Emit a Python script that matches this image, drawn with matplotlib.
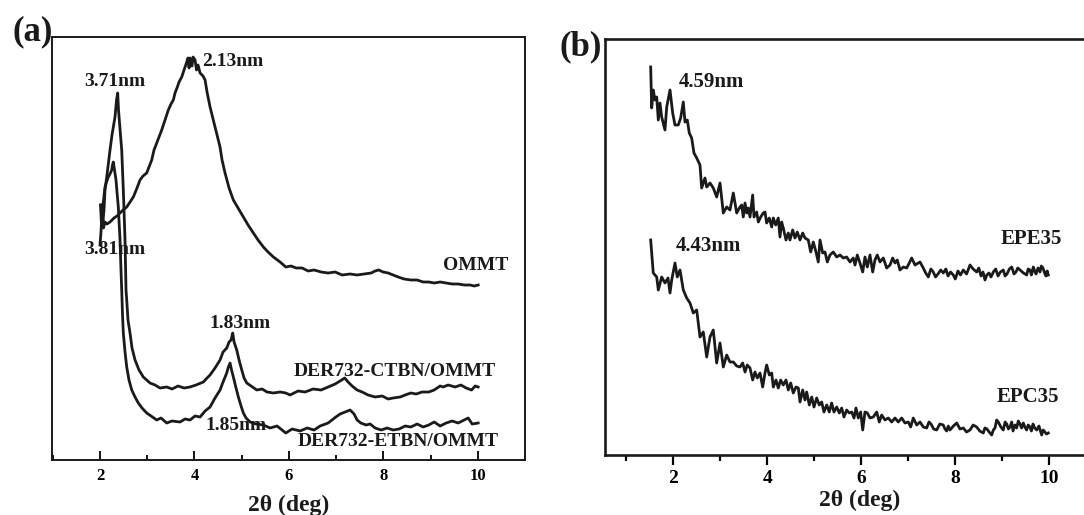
import matplotlib
matplotlib.use("Agg")
import matplotlib.pyplot as plt
from matplotlib.ticker import MultipleLocator

plt.rcParams['font.family'] = ['Liberation Serif', 'DejaVu Serif']
plt.rcParams['font.weight'] = 'bold'

# ---------------- panel (a) data ----------------
ctbn_x = [2.021, 2.053, 2.085, 2.106, 2.148, 2.212, 2.254, 2.318, 2.350, 2.375, 2.392, 2.409,
          2.434, 2.460, 2.494, 2.530, 2.551, 2.566, 2.593, 2.636, 2.678, 2.742, 2.826, 2.917,
          3.059, 3.165, 3.271, 3.413, 3.525, 3.653, 3.780, 3.907, 4.034, 4.189, 4.267, 4.331,
          4.436, 4.542, 4.606, 4.684, 4.733, 4.775, 4.811, 4.839, 4.896, 4.945, 5.002, 5.051,
          5.108, 5.199, 5.320, 5.432, 5.538, 5.672, 5.814, 5.934, 6.025, 6.195, 6.343, 6.513,
          6.682, 6.831, 6.979, 7.085, 7.182, 7.254, 7.339, 7.445, 7.551, 7.678, 7.826, 7.975,
          8.102, 8.208, 8.356, 8.462, 8.583, 8.695, 8.822, 8.962, 9.076, 9.203, 9.267, 9.373,
          9.521, 9.642, 9.754, 9.869, 9.945, 10.008]
ctbn_y = [255, 235, 250, 270, 285, 310, 325, 343, 360, 367, 350, 340,
          325, 310, 270, 220, 170, 160, 140, 127, 112, 100, 90, 83,
          77, 75, 72, 73, 71, 74, 72, 73, 75, 78, 82, 85,
          92, 100, 108, 112, 118, 120, 127, 118, 110, 100, 90, 82,
          77, 74, 70, 71, 68, 67, 68, 67, 65, 69, 68, 71,
          70, 73, 76, 79, 82, 78, 74, 70, 68, 65, 63, 64,
          61, 62, 63, 65, 67, 66, 68, 68, 70, 74, 73, 75,
          73, 75, 72, 70, 74, 73]

etbn_x = [2.000, 2.021, 2.036, 2.064, 2.106, 2.138, 2.176, 2.212, 2.248, 2.265, 2.282, 2.307,
          2.339, 2.360, 2.388, 2.424, 2.441, 2.460, 2.477, 2.494, 2.530, 2.566, 2.614, 2.672,
          2.742, 2.811, 2.890, 2.989, 3.081, 3.201, 3.292, 3.413, 3.525, 3.695, 3.801, 3.907,
          4.013, 4.119, 4.225, 4.331, 4.436, 4.542, 4.606, 4.684, 4.712, 4.754, 4.786, 4.824,
          4.881, 4.930, 4.987, 5.036, 5.093, 5.178, 5.305, 5.460, 5.602, 5.750, 5.934, 6.068,
          6.237, 6.386, 6.534, 6.661, 6.831, 6.994, 7.085, 7.191, 7.297, 7.381, 7.445, 7.523,
          7.636, 7.720, 7.826, 7.953, 8.081, 8.208, 8.335, 8.462, 8.583, 8.716, 8.843, 8.962,
          9.076, 9.203, 9.331, 9.458, 9.585, 9.712, 9.797, 9.881, 10.008]
etbn_y = [215, 228, 240, 255, 273, 278, 283, 286, 290, 295, 298, 290,
          280, 268, 253, 220, 195, 170, 145, 127, 108, 93, 80, 70,
          63, 57, 52, 47, 44, 40, 42, 37, 39, 38, 41, 40,
          44, 43, 49, 53, 62, 70, 78, 87, 92, 97, 90, 83,
          72, 63, 54, 47, 42, 38, 36, 35, 32, 34, 27, 31,
          29, 32, 30, 34, 37, 43, 46, 48, 50, 46, 40, 37,
          35, 36, 32, 30, 32, 30, 31, 34, 33, 36, 33, 35,
          38, 34, 37, 39, 37, 40, 42, 36, 37]

ommt_x = [2.011, 2.032, 2.053, 2.074, 2.106, 2.148, 2.212, 2.297, 2.360, 2.424, 2.487, 2.566,
          2.636, 2.706, 2.784, 2.847, 2.911, 2.989, 3.038, 3.095, 3.144, 3.201, 3.250, 3.307,
          3.377, 3.447, 3.504, 3.553, 3.589, 3.638, 3.674, 3.731, 3.780, 3.837, 3.864, 3.886,
          3.907, 3.949, 3.970, 4.013, 4.044, 4.076, 4.119, 4.182, 4.225, 4.267, 4.331, 4.373,
          4.436, 4.479, 4.542, 4.585, 4.648, 4.733, 4.824, 4.924, 5.036, 5.136, 5.248, 5.347,
          5.460, 5.559, 5.672, 5.814, 5.934, 6.047, 6.153, 6.280, 6.407, 6.534, 6.682, 6.831,
          6.979, 7.127, 7.297, 7.445, 7.593, 7.742, 7.826, 7.903, 7.996, 8.102, 8.208, 8.314,
          8.441, 8.583, 8.716, 8.843, 8.962, 9.076, 9.203, 9.331, 9.458, 9.585, 9.712, 9.839,
          9.924, 10.008]
ommt_y = [255, 235, 248, 232, 238, 236, 238, 242, 244, 247, 250, 253,
          258, 263, 272, 280, 284, 287, 293, 300, 310, 317, 323, 330,
          340, 350, 356, 360, 367, 373, 378, 383, 390, 398, 402, 392,
          402, 394, 403, 400, 390, 395, 387, 384, 380, 368, 353, 345,
          333, 325, 313, 300, 287, 272, 260, 252, 243, 235, 227, 220,
          213, 208, 203, 198, 193, 194, 192, 192, 189, 190, 188, 187,
          188, 185, 186, 185, 186, 187, 189, 190, 188, 187, 185, 183,
          181, 180, 180, 178, 178, 177, 178, 177, 176, 176, 175, 175,
          174, 175]

# ---------------- panel (b) data ----------------
epe_x = [1.519, 1.540, 1.574, 1.611, 1.647, 1.681, 1.717, 1.753, 1.823, 1.860, 1.930, 1.987,
         2.036, 2.106, 2.157, 2.213, 2.249, 2.298, 2.340, 2.391, 2.440, 2.498, 2.568, 2.604,
         2.674, 2.711, 2.781, 2.851, 2.923, 2.994, 3.064, 3.136, 3.206, 3.277, 3.349,
         3.419, 3.455, 3.489, 3.526, 3.562, 3.596, 3.632, 3.689, 3.717, 3.774, 3.809, 3.860,
         3.915, 3.951, 3.987, 4.043, 4.094, 4.128, 4.179, 4.234, 4.270, 4.306, 4.340, 4.398,
         4.447, 4.483, 4.540, 4.589, 4.638, 4.696, 4.753, 4.802, 4.872, 4.923, 4.979, 5.036,
         5.085, 5.121, 5.179, 5.228, 5.277, 5.334, 5.404, 5.477, 5.547, 5.617, 5.689, 5.760,
         5.830, 5.866, 5.915, 5.972, 6.030, 6.079, 6.128, 6.185, 6.243, 6.291, 6.340, 6.398,
         6.468, 6.540, 6.611, 6.668, 6.717, 6.766, 6.823, 6.894, 6.966, 7.021, 7.072, 7.143,
         7.249, 7.319, 7.370, 7.426, 7.480, 7.532, 7.580, 7.632, 7.690, 7.745, 7.800, 7.845,
         7.900, 7.957, 8.000, 8.057, 8.110, 8.170, 8.240, 8.313, 8.380, 8.455, 8.500, 8.547,
         8.590, 8.632, 8.670, 8.717, 8.760, 8.809, 8.860, 8.909, 8.960, 9.021, 9.060, 9.100,
         9.150, 9.200, 9.250, 9.291, 9.330, 9.377, 9.450, 9.519, 9.550, 9.589, 9.620, 9.660,
         9.690, 9.717, 9.760, 9.802, 9.830, 9.866, 9.900, 9.930, 9.955, 9.979]
epe_y = [388, 347, 365, 355, 358, 335, 352, 338, 325, 348, 365, 342,
         330, 330, 337, 353, 333, 335, 322, 317, 302, 297, 290, 267,
         277, 268, 272, 267, 258, 272, 242, 248, 245, 262, 242,
         248, 250, 238, 252, 242, 247, 238, 260, 238, 243, 233, 238,
         242, 243, 232, 237, 228, 237, 230, 237, 218, 233, 227, 215,
         222, 215, 225, 217, 223, 215, 222, 217, 215, 203, 213, 203,
         193, 215, 202, 203, 193, 200, 203, 198, 200, 197, 198, 193,
         197, 190, 200, 192, 183, 198, 188, 200, 183, 195, 200, 193,
         197, 187, 190, 197, 192, 195, 185, 188, 187, 192, 197, 190,
         193, 187, 182, 178, 186, 183, 178, 181, 185, 182, 186, 179,
         183, 180, 176, 184, 180, 185, 181, 190, 186, 183, 187, 179,
         183, 175, 180, 182, 178, 183, 186, 179, 183, 185, 179, 181,
         186, 188, 181, 183, 187, 185, 182, 180, 186, 185, 180, 188,
         184, 181, 187, 183, 189, 187, 182, 179, 184, 180]

epc_x = [1.519, 1.574, 1.647, 1.681, 1.753, 1.823, 1.887, 1.930, 1.966, 2.036, 2.085, 2.143,
         2.213, 2.285, 2.355, 2.426, 2.498, 2.568, 2.638, 2.711, 2.781, 2.851, 2.923, 2.994,
         3.064, 3.136, 3.206, 3.277, 3.349,
         3.419, 3.477, 3.526, 3.574, 3.632, 3.689, 3.738, 3.787, 3.845, 3.902, 3.951, 3.987,
         4.043, 4.094, 4.128, 4.185, 4.234, 4.285, 4.340, 4.398, 4.447, 4.498, 4.553, 4.611,
         4.660, 4.696, 4.753, 4.802, 4.838, 4.894, 4.945, 4.994, 5.051, 5.106, 5.157, 5.206,
         5.264, 5.319, 5.370, 5.419, 5.477, 5.532, 5.583, 5.632, 5.689, 5.745, 5.796, 5.845,
         5.887, 5.936, 5.987, 6.030, 6.079, 6.128, 6.185, 6.255, 6.328, 6.383, 6.434, 6.504,
         6.574, 6.647, 6.717, 6.787, 6.860, 6.930, 7.000, 7.051, 7.106, 7.179, 7.249,
         7.320, 7.391, 7.440, 7.483, 7.540, 7.604, 7.670, 7.745, 7.780, 7.817, 7.850, 7.887,
         7.960, 8.030, 8.100, 8.170, 8.240, 8.313, 8.380, 8.455, 8.520, 8.596, 8.630, 8.674,
         8.720, 8.774, 8.810, 8.845, 8.880, 8.915, 8.970, 9.021, 9.060, 9.094, 9.130, 9.164,
         9.200, 9.228, 9.270, 9.306, 9.340, 9.377, 9.410, 9.447, 9.480, 9.519, 9.550, 9.589,
         9.620, 9.653, 9.690, 9.732, 9.780, 9.838, 9.870, 9.908, 9.940, 9.979]
epc_y = [215, 182, 178, 165, 178, 172, 177, 162, 175, 192, 178, 185,
         165, 157, 152, 142, 145, 118, 123, 98, 118, 125, 92, 112,
         88, 100, 93, 93, 89,
         88, 92, 83, 90, 87, 75, 83, 77, 82, 68, 82, 90,
         80, 82, 68, 75, 67, 75, 70, 75, 65, 72, 62, 68,
         67, 53, 65, 55, 63, 50, 58, 48, 57, 50, 53, 43,
         50, 43, 52, 43, 48, 42, 47, 38, 45, 42, 43, 37,
         47, 37, 43, 25, 43, 42, 37, 38, 43, 33, 40, 35,
         37, 33, 37, 33, 37, 32, 33, 28, 37, 30, 33,
         28, 27, 33, 31, 26, 25, 31, 30, 26, 24, 29, 25,
         29, 32, 26, 27, 23, 25, 30, 28, 24, 22, 27, 26,
         23, 20, 25, 27, 35, 33, 28, 25, 33, 31, 26, 28,
         33, 24, 30, 27, 34, 31, 27, 32, 28, 25, 30, 28,
         24, 31, 27, 25, 29, 20, 25, 23, 21, 22]

labels_a = ["3.71nm", "2.13nm", "3.81nm", "OMMT", "1.83nm", "DER732-CTBN/OMMT",
            "1.85nm", "DER732-ETBN/OMMT"]
labels_a_x = [2.318, 4.818, 2.318, 9.945, 4.966, 8.250, 4.881, 8.314]
labels_a_y = [378, 398, 210, 195, 137, 88, 35, 19]

labels_b = ["4.59nm", "4.43nm", "EPE35", "EPC35"]
labels_b_x = [2.802, 2.738, 9.611, 9.547]
labels_b_y = [373, 209, 216, 58]

xticks = [2, 4, 6, 8, 10]

W, H = 1084, 515
INK = '#1a1a1a'
fig = plt.figure(figsize=(W / 100, H / 100), dpi=100)

# panel (a)
axa = fig.add_axes([52.3 / W, 1 - 460 / H, (525 - 52.3) / W, (460 - 37) / H])
for xs, ys in [(ommt_x, ommt_y), (ctbn_x, ctbn_y), (etbn_x, etbn_y)]:
    axa.plot(xs, ys, color=INK, lw=2.0)
axa.set_xlim(0.99, 11.0)
axa.set_ylim(0, 423)
axa.set_yticks([])
axa.set_xticks(xticks)
axa.xaxis.set_minor_locator(MultipleLocator(1))
axa.tick_params(axis='x', which='major', direction='in', length=6.5, width=1.3,
                labelsize=12, pad=6, top=False)
axa.tick_params(axis='x', which='minor', direction='in', length=3.5, width=1.3, top=False)
for s in axa.spines.values():
    s.set_linewidth(1.4)
    s.set_color(INK)
for t, x, y in zip(labels_a, labels_a_x, labels_a_y):
    axa.text(x, y, t, ha='center', va='center', fontsize=14, fontweight='bold', color=INK)
for lab in axa.get_xticklabels():
    lab.set_fontweight('bold')

# panel (b)
axb = fig.add_axes([605 / W, 1 - 455 / H, (1100 - 605) / W, (455 - 39) / H])
for xs, ys in [(epe_x, epe_y), (epc_x, epc_y)]:
    axb.plot(xs, ys, color=INK, lw=2.0)
axb.set_xlim(0.547, 0.547 + 495 / 47.0)
axb.set_ylim(0, 416)
axb.set_yticks([])
axb.set_xticks(xticks)
axb.xaxis.set_minor_locator(MultipleLocator(1))
axb.tick_params(axis='x', which='major', direction='out', length=7, width=1.6,
                labelsize=14, pad=4, top=False)
axb.tick_params(axis='x', which='minor', direction='out', length=4, width=1.6, top=False)
for s in axb.spines.values():
    s.set_linewidth(1.9)
    s.set_color(INK)
for t, x, y in zip(labels_b, labels_b_x, labels_b_y):
    axb.text(x, y, t, ha='center', va='center', fontsize=15, fontweight='bold', color=INK)
for lab in axb.get_xticklabels():
    lab.set_fontweight('bold')

fig.text(289 / W, 1 - 505 / H, "2θ (deg)", ha='center', va='center', fontsize=17, fontweight='bold', color=INK)
fig.text(860 / W, 1 - 500 / H, "2θ (deg)", ha='center', va='center', fontsize=17, fontweight='bold', color=INK)
fig.text(33 / W, 1 - 32 / H, "(a)", ha='center', va='center', fontsize=25, fontweight='bold', color=INK)
fig.text(581 / W, 1 - 47 / H, "(b)", ha='center', va='center', fontsize=25, fontweight='bold', color=INK)

fig.savefig("out.png", dpi=100)
